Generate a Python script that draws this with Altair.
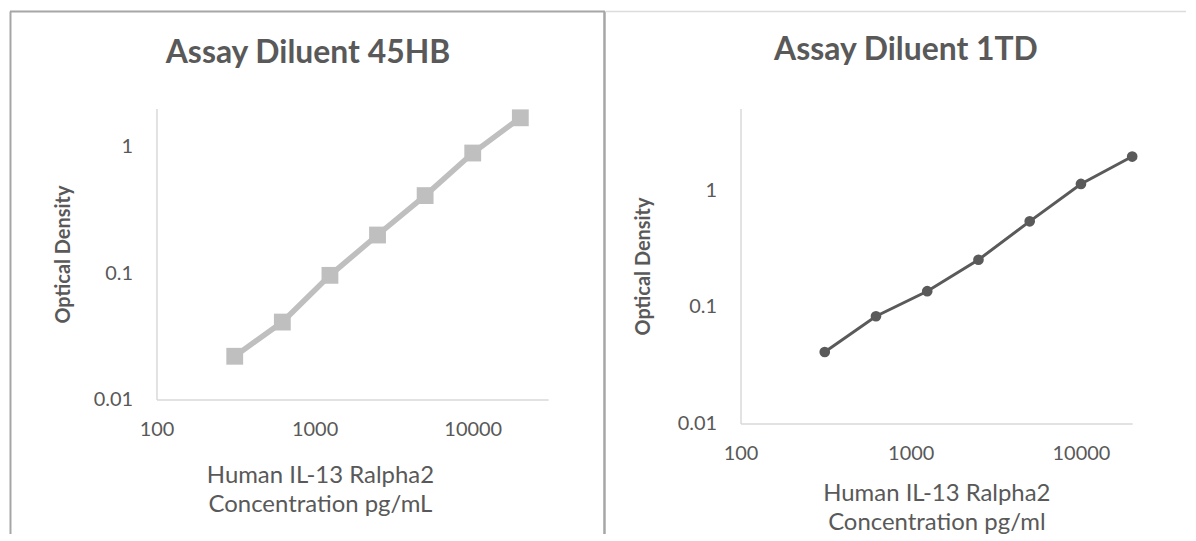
import altair as alt
import pandas as pd

# ---- data ----
concentration = [312.5, 625, 1250, 2500, 5000, 10000, 20000]
od_45hb = [0.022, 0.041, 0.096, 0.20, 0.41, 0.89, 1.69]
od_1td = [0.041, 0.083, 0.136, 0.253, 0.54, 1.13, 1.94]
x_ticks = [100, 1000, 10000]
y_ticks = [0.01, 0.1, 1]
titles = ["Assay Diluent 45HB", "Assay Diluent 1TD"]
x_titles = [["Human IL-13 Ralpha2", "Concentration pg/mL"],
            ["Human IL-13 Ralpha2", "Concentration pg/ml"]]
y_title = "Optical Density"

TEXT = "#595959"
FONT = "Lato"
BORDER = "#a6a6a6"


def one_row():
    return pd.DataFrame({"k": [0]})


def panel(values, color, shape, msize, lw, width, height, xmax, ymax,
          title, xtitle, title_xy, xtitle_x, xtitle_y, ytitle_x, borders):
    df = pd.DataFrame({"conc": concentration, "od": values})
    x = alt.X("conc:Q",
              scale=alt.Scale(type="log", domain=[100, xmax], nice=False),
              axis=alt.Axis(values=x_ticks, format="d", title=xtitle,
                            titleX=xtitle_x, titleY=xtitle_y,
                            titleBaseline="top", titleAlign="center",
                            titleFontSize=24, titleLineHeight=29,
                            titleFontWeight="normal", labelPadding=20,
                            labelFlush=False))
    y = alt.Y("od:Q",
              scale=alt.Scale(type="log", domain=[0.01, ymax], nice=False),
              axis=alt.Axis(values=y_ticks, format="~g", title=y_title,
                            titleX=ytitle_x, titleBaseline="middle",
                            titleAngle=270, titleAlign="center",
                            titleFontSize=20, titleFontWeight="bold",
                            labelPadding=24, labelFlush=False))
    base = alt.Chart(df).encode(x=x, y=y)
    line = base.mark_line(color=color, strokeWidth=lw)
    pts = base.mark_point(shape=shape, filled=True, size=msize,
                          color=color, opacity=1)
    ttl = alt.Chart(one_row()).mark_text(
        font=FONT, fontSize=32, fontWeight="bold", color=TEXT,
        align="center", baseline="middle").encode(
        x=alt.value(title_xy[0]), y=alt.value(title_xy[1]),
        text=alt.value(title))
    layers = [line, pts, ttl]
    for (x1, x2, y1, y2, c, w) in borders:
        layers.append(
            alt.Chart(one_row()).mark_rule(color=c, strokeWidth=w).encode(
                x=alt.value(x1), x2=alt.value(x2),
                y=alt.value(y1), y2=alt.value(y2)))
    return alt.layer(*layers).properties(width=width, height=height)


left = panel(od_45hb, "#bfbfbf", "square", 285, 5.5, 393, 292, 30000, 2,
             titles[0], x_titles[0], (152, -56), 164, 64, -93,
             [(-146.5, -146.5, -97.5, 427, BORDER, 2),
              (-147, 450, -97.5, -97.5, BORDER, 2),
              (449.5, 449.5, -97.5, 427, BORDER, 2.5)])

right = panel(od_1td, "#5a5a5a", "circle", 115, 3, 393, 316, 20000, 5,
              titles[1], x_titles[1], (166, -59), 196.5, 58, -97,
              [(-135, 447, -97.5, -97.5, "#dcdcdc", 1.5)])

chart = alt.hconcat(left, right, spacing=193, bounds="flush").properties(
    padding=0
).configure(font=FONT).configure_axis(
    domainColor="#d9d9d9", domainWidth=1.5, ticks=False, grid=False,
    labelFont=FONT, labelFontSize=20, labelColor=TEXT,
    titleFont=FONT, titleColor=TEXT
).configure_view(stroke="transparent")

chart.save("out.html", embed_options={"renderer": "svg", "actions": False})
